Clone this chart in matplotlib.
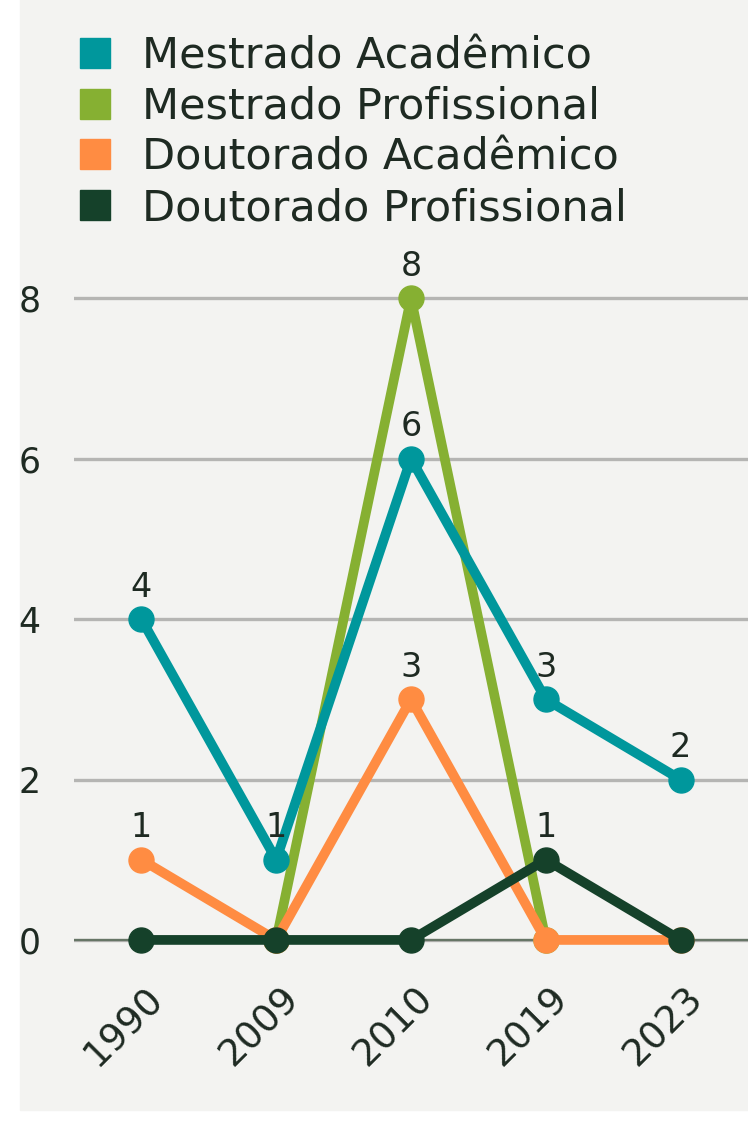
import matplotlib
matplotlib.use('Agg')
import matplotlib.pyplot as plt
import matplotlib.transforms as mtransforms
from matplotlib.lines import Line2D
from matplotlib.patches import Rectangle
import numpy as np

# data
years = ['1990', '2009', '2010', '2019', '2023']
mestrado_acad = [4, 1, 6, 3, 2]
mestrado_prof = [np.nan, 0, 8, 0, np.nan]
doutorado_acad = [1, 0, 3, 0, 0]
doutorado_prof = [0, 0, 0, 1, 0]

names = ['Mestrado Acadêmico', 'Mestrado Profissional',
         'Doutorado Acadêmico', 'Doutorado Profissional']
colors = ['#00979c', '#86b032', '#ff8c42', '#15412a']
series = [mestrado_acad, mestrado_prof, doutorado_acad, doutorado_prof]

plt.rcParams['font.family'] = ['DejaVu Sans']
bg = '#f3f3f1'
text_color = '#1e2a22'

fig = plt.figure(figsize=(7.48, 11.28), dpi=100, facecolor='white')
# light panel behind the chart
fig.patches.append(Rectangle((20 / 748, 18 / 1128), 1, 1, transform=fig.transFigure,
                             color=bg, zorder=-5))

ax = fig.add_axes([74 / 748, 1 - 964 / 1128, 674 / 748, (964 - 218) / 1128])
ax.set_facecolor('none')
ax.set_zorder(2)
x = np.arange(len(years))

# draw in order so the zero-level series sit on top
order = [1, 0, 2, 3]
for k in order:
    ax.plot(x, series[k], color=colors[k], lw=7, marker='o', ms=18,
            solid_capstyle='round', zorder=3 + order.index(k))

# value labels
labels = {0: [0, 1, 2, 3, 4], 1: [2], 2: [0, 2], 3: [3]}
for k, idx in labels.items():
    for i in idx:
        v = series[k][i]
        ax.annotate(str(int(v)), (x[i], v), xytext=(0, 11), textcoords='offset points',
                    ha='center', va='bottom', fontsize=24, color=text_color, zorder=10)

ax.set_xlim(-0.5, 4.5)
ax.set_ylim(-0.3, 9.0)
ax.set_yticks([0, 2, 4, 6, 8])
ax.set_xticks(x)
ax.set_xticklabels(years, rotation=45, ha='right', rotation_mode='anchor')
ax.tick_params(axis='both', length=0, labelsize=25, colors=text_color)
ax.tick_params(axis='x', labelsize=27, pad=12)
ax.tick_params(axis='y', pad=24)
shift = mtransforms.ScaledTranslation(4 / 100, 0, fig.dpi_scale_trans)
for lab in ax.get_xticklabels():
    lab.set_transform(lab.get_transform() + shift)
ax.grid(axis='y', color='#b5b5b3', lw=2.4)
ax.axhline(0, color='#667566', lw=1.6, zorder=2)
for s in ax.spines.values():
    s.set_visible(False)

handles = [Line2D([], [], ls='none', marker='s', ms=21, color=c) for c in colors]
fig.legend(handles, names, loc='upper left', bbox_to_anchor=(56 / 748, 1 - 18 / 1128),
           frameon=False, fontsize=31, handletextpad=0.6, labelspacing=0.2,
           labelcolor=text_color, borderaxespad=0, handlelength=1.0)

fig.savefig('out.png', dpi=100, facecolor='white')
